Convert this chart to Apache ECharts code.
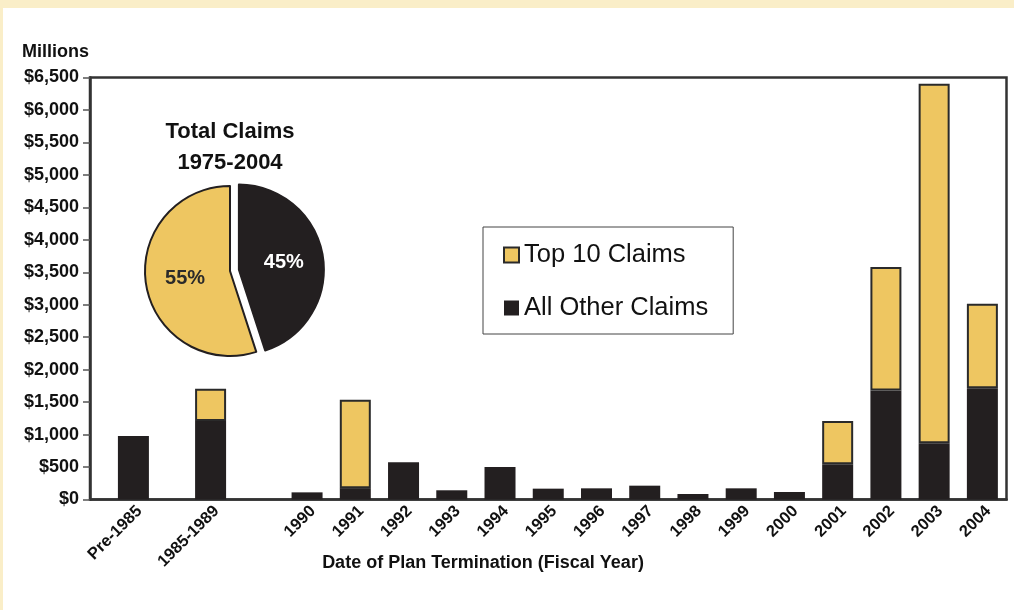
<!DOCTYPE html>
<html>
<head>
<meta charset="utf-8">
<script src="https://cdn.jsdelivr.net/npm/echarts@6/dist/echarts.min.js"></script>
<style>
  html, body { margin: 0; padding: 0; background: #ffffff; }
  #chart { width: 1014px; height: 610px; }
</style>
</head>
<body>
<div id="chart"></div>
<script>
// ---------------- data ----------------
const categories = ['Pre-1985', '1985-1989', '1990', '1991', '1992', '1993', '1994', '1995',
  '1996', '1997', '1998', '1999', '2000', '2001', '2002', '2003', '2004'];
const allOtherClaims = [980, 1210, 110, 175, 575, 142, 501, 167, 172, 213, 85, 172, 116, 543, 1678, 867, 1715];
const top10Claims = [null, 495, null, 1360, null, null, null, null, null, null, null, null, null, 667, 1902, 5535, 1300];
const pieNames = ['All Other Claims', 'Top 10 Claims'];
const pieShares = [45, 55];
const yTicks = [0, 6500, 500];

// ---------------- layout (axis slots) ----------------
// the original spaces the two period groups unevenly; each category sits on a slot of a finer category axis
const firstSlot = 4, slotsPerYear = 5;
const leadGaps = [0, 8, 10]; // slot distance before Pre-1985 / 1985-1989 / 1990
const slotOf = [];
let s = firstSlot;
categories.forEach((c, i) => {
  if (i > 0) s += (i < leadGaps.length ? leadGaps[i] : slotsPerYear);
  slotOf.push(s);
});
const totalSlots = slotOf[slotOf.length - 1] + 3;
const axisCats = new Array(totalSlots).fill('');
const otherData = new Array(totalSlots).fill(null);
const topData = new Array(totalSlots).fill(null);
categories.forEach((c, i) => {
  axisCats[slotOf[i]] = c;
  otherData[slotOf[i]] = allOtherClaims[i];
  topData[slotOf[i]] = top10Claims[i];
});

const YELLOW = '#EEC661';
const BLACK = '#231F20';
const FONT = '"Liberation Sans", Arial, Helvetica, sans-serif';

const chart = echarts.init(document.getElementById('chart'), null, { renderer: 'canvas' });
chart.setOption({
  animation: false,
  backgroundColor: '#ffffff',
  textStyle: { fontFamily: FONT },
  grid: {
    left: 90, right: 7.5, top: 77.5, bottom: 110.5,
    show: true, borderColor: '#333333', borderWidth: 2.5, backgroundColor: 'transparent'
  },
  legend: {
    data: ['Top 10 Claims', 'All Other Claims'],
    orient: 'vertical',
    left: 483, top: 227,
    padding: [14, 25, 12, 20],
    itemGap: 25,
    itemWidth: 15, itemHeight: 15,
    icon: 'rect',
    selectedMode: false,
    borderColor: '#444444', borderWidth: 1,
    backgroundColor: '#ffffff',
    textStyle: { fontSize: 25.5, lineHeight: 28, color: '#111111', fontFamily: FONT }
  },
  xAxis: {
    type: 'category',
    data: axisCats,
    boundaryGap: true,
    axisLine: { lineStyle: { color: '#333333', width: 2.5 } },
    axisTick: { show: false },
    axisLabel: {
      interval: 0, rotate: 45, margin: 3, verticalAlign: 'top',
      fontSize: 16.5, fontWeight: 'bold', color: '#111111', fontFamily: FONT
    },
    splitLine: { show: false }
  },
  yAxis: {
    type: 'value',
    min: yTicks[0], max: yTicks[1], interval: yTicks[2],
    axisLine: { show: true, lineStyle: { color: '#333333', width: 2.5 } },
    axisTick: { show: true, length: 7, lineStyle: { color: '#555555', width: 1.5 } },
    axisLabel: {
      margin: 11, fontSize: 18, fontWeight: 'bold', color: '#111111', fontFamily: FONT,
      formatter: v => '$' + v.toLocaleString('en-US')
    },
    splitLine: { show: false }
  },
  series: [
    {
      name: 'All Other Claims', type: 'bar', stack: 'claims',
      data: otherData, barWidth: 31,
      itemStyle: { color: BLACK }
    },
    {
      name: 'Top 10 Claims', type: 'bar', stack: 'claims',
      data: topData, barWidth: 31,
      itemStyle: { color: YELLOW, borderColor: '#2a2a2a', borderWidth: 2 }
    },
    {
      name: 'Total Claims 1975-2004', type: 'pie',
      center: [230, 271], radius: 85,
      startAngle: 90, clockwise: true,
      selectedMode: 'single', selectedOffset: 9,
      label: {
        show: true, position: 'inner', formatter: '{c}%',
        fontSize: 20, fontWeight: 'bold', fontFamily: FONT
      },
      labelLine: { show: false },
      emphasis: { disabled: true },
      itemStyle: { borderColor: BLACK, borderWidth: 2 },
      data: [
        { name: pieNames[0], value: pieShares[0], selected: true,
          itemStyle: { color: BLACK }, label: { color: '#ffffff' } },
        { name: pieNames[1], value: pieShares[1],
          itemStyle: { color: YELLOW }, label: { color: '#2a2a2a' } }
      ]
    }
  ],
  graphic: [
    { type: 'rect', shape: { x: 0, y: 0, width: 1014, height: 8 }, style: { fill: '#FAEEC8' }, silent: true },
    { type: 'rect', shape: { x: 0, y: 0, width: 3, height: 610 }, style: { fill: '#FAEEC8' }, silent: true },
    { type: 'text', x: 22, y: 52, style: { text: 'Millions', font: 'bold 18px ' + FONT, fill: '#111111', align: 'left', verticalAlign: 'middle' } },
    { type: 'text', x: 230, y: 132, style: { text: 'Total Claims', font: 'bold 22px ' + FONT, fill: '#111111', align: 'center', verticalAlign: 'middle' } },
    { type: 'text', x: 230, y: 163, style: { text: '1975-2004', font: 'bold 22px ' + FONT, fill: '#111111', align: 'center', verticalAlign: 'middle' } },
    { type: 'text', x: 483, y: 563, style: { text: 'Date of Plan Termination (Fiscal Year)', font: 'bold 18px ' + FONT, fill: '#111111', align: 'center', verticalAlign: 'middle' } }
  ]
});
</script>
</body>
</html>
